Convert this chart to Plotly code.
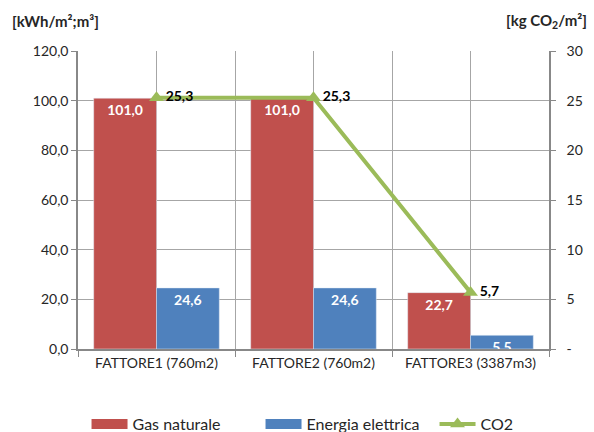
import plotly.graph_objects as go

categories = ["FATTORE1 (760m2)", "FATTORE2 (760m2)", "FATTORE3 (3387m3)"]
gas_naturale = [101.0, 101.0, 22.7]
energia_elettrica = [24.6, 24.6, 5.5]
co2 = [25.3, 25.3, 5.7]
y2_tickvals = [0, 5, 10, 15, 20, 25, 30]
y2_ticktext = ["-", "5", "10", "15", "20", "25", "30"]

RED = "#C0504D"
BLUE = "#4F81BD"
GREEN = "#9BBB59"
GRID = "#A6A6A6"
FONT = "Lato"

xpos = list(range(len(categories)))

fig = go.Figure()
fig.add_trace(go.Bar(
    x=xpos, y=gas_naturale, name="Gas naturale", marker_color=RED,
    texttemplate="%{y:.1f}", textposition="inside", insidetextanchor="end",
    textfont=dict(color="white", size=14, family=FONT, weight="bold"),
    textangle=0, showlegend=False, legendgroup="gas",
))
fig.add_trace(go.Bar(
    x=xpos, y=energia_elettrica, name="Energia elettrica", marker_color=BLUE,
    texttemplate="%{y:.1f}", textposition="inside", insidetextanchor="end",
    textfont=dict(color="white", size=14, family=FONT, weight="bold"),
    textangle=0, showlegend=False, legendgroup="ee",
))
# legend swatches (wide rectangles like the reference)
fig.add_trace(go.Scatter(x=[None], y=[None], mode="lines", name="Gas naturale",
                         line=dict(color=RED, width=12), legendgroup="gas"))
fig.add_trace(go.Scatter(x=[None], y=[None], mode="lines", name="Energia elettrica",
                         line=dict(color=BLUE, width=12), legendgroup="ee"))
fig.add_trace(go.Scatter(
    x=xpos, y=co2, name="CO2", yaxis="y2", mode="lines+markers+text",
    line=dict(color=GREEN, width=4),
    marker=dict(symbol="triangle-up", size=13, color=GREEN),
    texttemplate="%{y:.1f}", textposition="middle right",
    textfont=dict(color="black", size=14, family=FONT, weight="bold"),
    cliponaxis=False,
))

fig.update_layout(
    width=594, height=432,
    margin=dict(l=78, r=45, t=51, b=83, autoexpand=False),
    paper_bgcolor="white", plot_bgcolor="white",
    separators=",.",
    barmode="group", bargap=0.2, bargroupgap=0,
    font=dict(family=FONT, size=14, color="#262626"),
    uniformtext=dict(minsize=14, mode="show"),
    showlegend=True,
    legend=dict(orientation="h", x=-0.001, xanchor="left",
                y=-0.252, yanchor="middle", indentation=9,
                font=dict(size=16, family=FONT, color="#262626"),
                itemwidth=36, entrywidth=114, traceorder="normal",
                bgcolor="rgba(0,0,0,0)"),
    xaxis=dict(
        range=[-0.5, 2.5], tickvals=xpos, ticktext=categories,
        showgrid=True, gridcolor=GRID, gridwidth=1,
        ticks="", showline=True, linecolor="#888888", linewidth=1.5,
        zeroline=False, tickfont=dict(size=14),
        minor=dict(tickvals=[-0.5, 0.5, 1.5, 2.5], showgrid=True, gridcolor=GRID,
                   ticks="outside", ticklen=6, tickcolor="#888888"),
    ),
    yaxis=dict(
        range=[0, 120], dtick=20, tickformat=".1f",
        showgrid=True, gridcolor=GRID, gridwidth=1,
        ticks="outside", ticklen=5, tickcolor="#888888",
        showline=True, linecolor="#888888", linewidth=1.5,
        zeroline=False, tickfont=dict(size=14),
    ),
    yaxis2=dict(
        overlaying="y", side="right", range=[0, 30],
        tickvals=y2_tickvals, ticktext=y2_ticktext,
        showgrid=False, ticks="outside", ticklen=5, tickcolor="#888888",
        showline=True, linecolor="#888888", linewidth=1.5,
        zeroline=False, tickfont=dict(size=14), ticklabelstandoff=8,
    ),
    annotations=[
        dict(text="<b>[kWh/m²;m³]</b>", xref="paper", yref="paper",
             x=-68/471, y=1, yshift=30, xanchor="left", yanchor="middle",
             showarrow=False, font=dict(size=15, family=FONT, color="#262626")),
        dict(text="<b>[kg CO<sub>2</sub>/m²]</b>", xref="paper", yref="paper",
             x=1 + 40/471, y=1, yshift=30, xanchor="right", yanchor="middle",
             showarrow=False, font=dict(size=15, family=FONT, color="#262626")),
    ],
)

fig.write_html("out.html", config={"displayModeBar": False},
               post_script="document.body.style.margin='0px';document.body.style.padding='0px';")
